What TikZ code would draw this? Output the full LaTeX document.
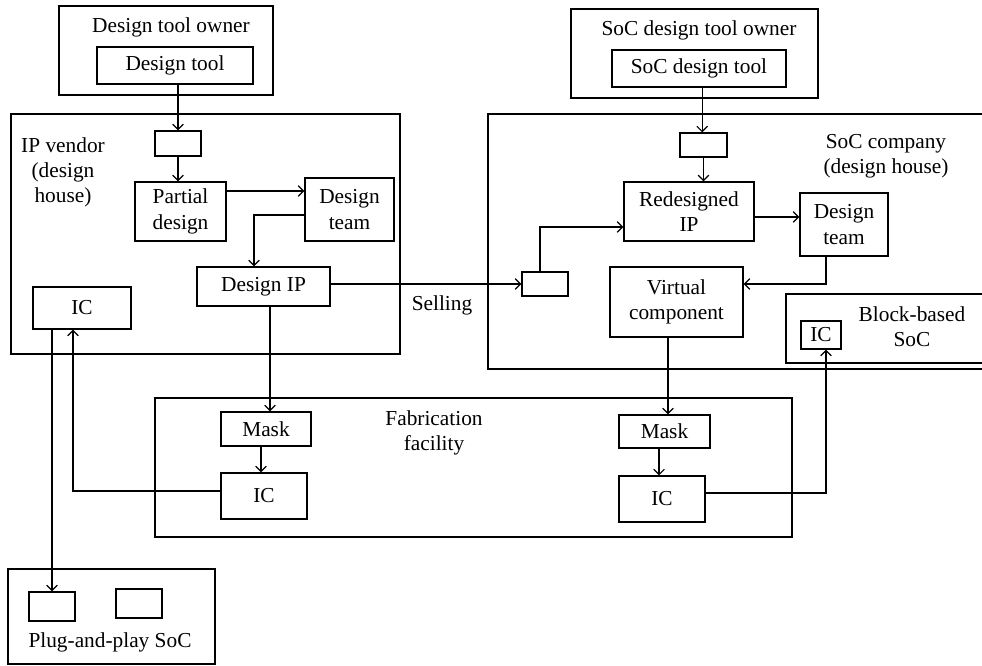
\documentclass[tikz,border=0pt]{standalone}
\usepackage{fontspec}
\setmainfont{Liberation Serif}
\usetikzlibrary{fit,arrows.meta}
\begin{document}
\begin{tikzpicture}[x=0.75pt,y=-0.75pt,
  box/.style={draw,line width=0.9pt,inner sep=0pt,fill=white},
  lbl/.style={inner sep=0pt,align=center,font=\fontsize{16}{19}\selectfont},
  arr/.style={draw,line width=0.9pt,-{Straight Barb[length=4pt,width=8pt]}}]
\clip (0,0) rectangle (982,665);
\fill[white] (0,0) rectangle (982,665);
% containers
\node[box,fit={(59,6)(273,95)}] (dto) {};
\node[box,fit={(11,114)(400,354)}] (ipv) {};
\node[box,fit={(571,9)(818,98)}] (sdto) {};
\node[box,fit={(488,114)(1000,369)}] (socc) {};
\node[box,fit={(155,398)(792,537)}] (fab) {};
\node[box,fit={(8,569)(215,664)}] (pps) {};
\node[box,fit={(786,294)(1000,363)}] (bbs) {};
% inner boxes
\node[box,fit={(97,47)(253,84)},label={[lbl]center:Design tool}] (dt) {};
\node[box,fit={(155,131)(201,156)}] (s1) {};
\node[box,fit={(135,182)(226,241)},label={[lbl]center:{Partial\\design}}] (pd) {};
\node[box,fit={(305,178)(394,241)},label={[lbl]center:{Design\\team}}] (dtm) {};
\node[box,fit={(197,267)(330,306)},label={[lbl]center:Design IP}] (dip) {};
\node[box,fit={(33,287)(131,329)},label={[lbl]center:IC}] (icl) {};
\node[box,fit={(612,50)(786,87)},label={[lbl]center:SoC design tool}] (sdt) {};
\node[box,fit={(680,133)(727,157)}] (s3) {};
\node[box,fit={(624,182)(754,241)},label={[lbl]center:{Redesigned\\IP}}] (rip) {};
\node[box,fit={(800,193)(888,256)},label={[lbl]center:{Design\\team}}] (dtm2) {};
\node[box,fit={(522,272)(568,296)}] (s2) {};
\node[box,fit={(610,267)(743,337)},label={[lbl]center:{Virtual\\component}}] (vc) {};
\node[box,fit={(801,321)(841,349)},label={[lbl]center:IC}] (bic) {};
\node[box,fit={(221,412)(311,446)},label={[lbl]center:Mask}] (m1) {};
\node[box,fit={(221,473)(307,519)},label={[lbl]center:IC}] (ic1) {};
\node[box,fit={(619,415)(710,448)},label={[lbl]center:Mask}] (m2) {};
\node[box,fit={(619,476)(705,522)},label={[lbl]center:IC}] (ic2) {};
\node[box,fit={(29,592)(75,621)}] (pp1) {};
\node[box,fit={(116,589)(162,618)}] (pp2) {};
% labels
\node[lbl] (t1) at (171,27) {Design tool owner};
\node[lbl] (t2) at (699,30) {SoC design tool owner};
\node[lbl] (t3) at (63,172.5) {IP vendor\\(design\\house)};
\node[lbl] (t4) at (886,156) {SoC company\\(design house)};
\node[lbl] (t5) at (912,327) {Block-based\\SoC};
\node[lbl] (t6) at (434,433) {Fabrication\\facility};
\node[lbl] (t7) at (442,305) {Selling};
\node[lbl] (t8) at (110,642) {Plug-and-play SoC};
% connectors
\draw[arr] (s1.north |- dt.south) -- (s1.north);
\draw[arr] (s1.south) -- (s1.south |- pd.north);
\draw[arr] ([yshift=15.4pt]pd.east) -- ([yshift=15.4pt]pd.east -| dtm.west);
\draw[arr] ([yshift=-4.1pt]dtm.west) -| ([xshift=-7.1pt]dip.north);
\draw[arr] (dip.east |- s2.west) -- (s2.west);
\draw[arr] ([xshift=-3.75pt]s2.north) |- ([yshift=-11.6pt]rip.west);
\draw[arr] ([xshift=-1pt]s3.north |- sdt.south) -- ([xshift=-1pt]s3.north);
\draw[arr] (s3.south) -- (s3.south |- rip.north);
\draw[arr] ([yshift=-4.1pt]rip.east) -- ([yshift=-4.1pt]rip.east -| dtm2.west);
\draw[arr] ([xshift=-13.5pt]dtm2.south) |- ([yshift=13.5pt]vc.east);
\draw[arr] ([xshift=-6.4pt]vc.south) -- ([xshift=-6.4pt]vc.south |- m2.north);
\draw[arr] ([xshift=-4.1pt]m2.south) -- ([xshift=-4.1pt]m2.south |- ic2.north);
\draw[arr] ([yshift=4.5pt]ic2.east) -| ([xshift=3.75pt]bic.south);
\draw[arr] ([xshift=4.9pt]dip.south) -- ([xshift=4.9pt]dip.south |- m1.north);
\draw[arr] ([xshift=-3.75pt]m1.south) -- ([xshift=-3.75pt]m1.south |- ic1.north);
\draw[arr] ([yshift=3.75pt]ic1.west) -| ([xshift=-6.75pt]icl.south);
\draw[arr] (icl.south -| pp1.north) -- (pp1.north);
\end{tikzpicture}
\end{document}
